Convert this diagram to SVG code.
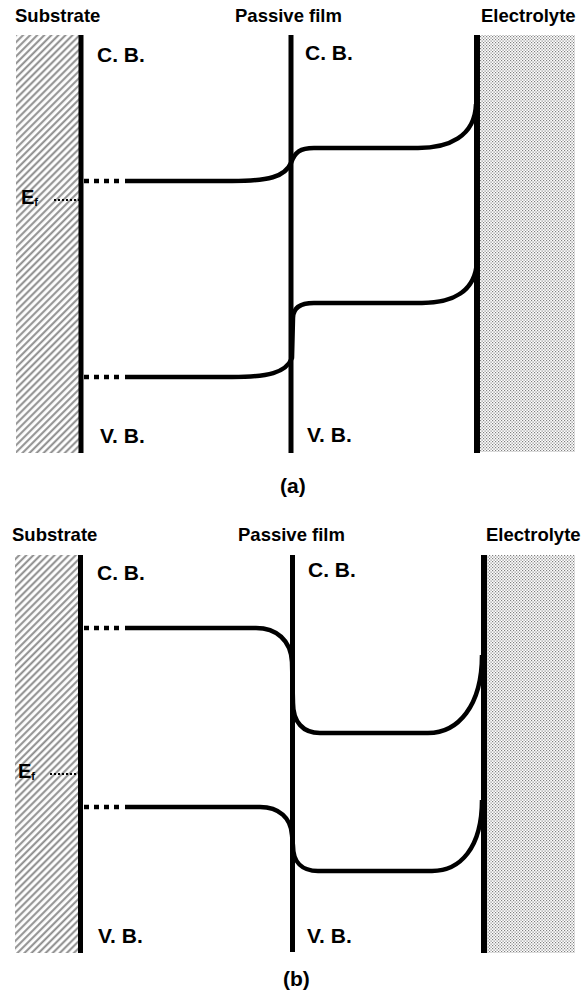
<svg xmlns="http://www.w3.org/2000/svg" width="588" height="993" viewBox="0 0 588 993">
  <defs>
    <pattern id="hatch" patternUnits="userSpaceOnUse" width="5" height="5" patternTransform="rotate(45)">
      <line x1="1.2" y1="-1" x2="1.2" y2="6" stroke="#8c8c8c" stroke-width="2"/>
    </pattern>
    <pattern id="dots" patternUnits="userSpaceOnUse" width="3" height="3">
      <rect x="0" y="0" width="3" height="3" fill="#ffffff"/>
      <rect x="0" y="0" width="1.2" height="1.2" fill="#808080"/>
      <rect x="1.5" y="1.5" width="1.2" height="1.2" fill="#808080"/>
    </pattern>
    <style>
      .lbl { font-family: "Liberation Sans", Arial, sans-serif; font-weight: bold; fill: #000; }
      .title { font-size: 18.5px; }
      .band-lbl { font-size: 21px; }
      .cap { font-size: 21px; }
      .wall { stroke: #000; stroke-width: 5; fill: none; }
      .ewall { stroke: #000; stroke-width: 6; fill: none; }
      .band { stroke: #000; stroke-width: 4.5; fill: none; stroke-linecap: butt; stroke-linejoin: round; }
      .dash { stroke: #000; stroke-width: 4.5; fill: none; stroke-dasharray: 5 5; }
      .fermi { stroke: #000; stroke-width: 2; fill: none; stroke-dasharray: 2 2; }
    </style>
  </defs>
  <rect width="588" height="993" fill="#ffffff"/>

  <!-- Panel (a) -->
  <g id="substrate-a">
    <rect x="16" y="35" width="63" height="418" fill="url(#hatch)"/>
    <line class="wall" x1="81" y1="35" x2="81" y2="453"/>
    <text class="lbl title" x="15" y="22">Substrate</text>
    <text class="lbl band-lbl" x="97" y="62">C. B.</text>
    <text class="lbl band-lbl" x="100" y="443">V. B.</text>
    <text class="lbl" x="21" y="204" style="font-size:20px">E<tspan dy="2" style="font-size:11px">f</tspan></text>
    <line class="fermi" x1="54" y1="200" x2="79" y2="200"/>
  </g>
  <g id="film-a">
    <line class="wall" x1="291" y1="35" x2="291" y2="453"/>
    <text class="lbl title" x="235" y="22">Passive film</text>
    <text class="lbl band-lbl" x="305" y="60">C. B.</text>
    <text class="lbl band-lbl" x="307" y="442">V. B.</text>
  </g>
  <g id="electrolyte-a">
    <rect x="480" y="35" width="95" height="417" fill="url(#dots)"/>
    <line class="ewall" x1="477" y1="35" x2="477" y2="453"/>
    <text class="lbl title" x="481" y="22">Electrolyte</text>
  </g>
  <text id="caption-a" class="lbl cap" x="280" y="493">(a)</text>

  <!-- Panel (b) -->
  <g id="substrate-b">
    <rect x="15" y="555" width="63" height="398" fill="url(#hatch)"/>
    <line class="wall" x1="80.5" y1="555" x2="80.5" y2="953"/>
    <text class="lbl title" x="12" y="541">Substrate</text>
    <text class="lbl band-lbl" x="97" y="580">C. B.</text>
    <text class="lbl band-lbl" x="98" y="943">V. B.</text>
    <text class="lbl" x="18" y="778" style="font-size:20px">E<tspan dy="2" style="font-size:11px">f</tspan></text>
    <line class="fermi" x1="50" y1="774" x2="78" y2="774"/>
  </g>
  <g id="film-b">
    <line class="wall" x1="292.5" y1="555" x2="292.5" y2="952"/>
    <text class="lbl title" x="238" y="541">Passive film</text>
    <text class="lbl band-lbl" x="308" y="577">C. B.</text>
    <text class="lbl band-lbl" x="307" y="943">V. B.</text>
  </g>
  <g id="electrolyte-b">
    <rect x="487" y="555" width="88" height="398" fill="url(#dots)"/>
    <line class="ewall" x1="484" y1="555" x2="484" y2="953"/>
    <text class="lbl title" x="486" y="541">Electrolyte</text>
  </g>
  <text id="caption-b" class="lbl cap" x="283" y="986">(b)</text>

  <!-- Band connectors -->
  <g id="connectors">
    <!-- (a) conduction band -->
    <line class="dash" x1="84" y1="181" x2="119" y2="181"/>
    <path class="band" d="M125,181 H232 C268,181 285,177 291,163 C295,152 300,148 314,148 H418 C448,148 475,137 476,104"/>
    <!-- (a) valence band -->
    <line class="dash" x1="84" y1="377" x2="119" y2="377"/>
    <path class="band" d="M125,377 H232 C268,377 286,373 292,358 L293,318 C293,308 300,303 314,303 H422 C452,303 475,292 477,262"/>
    <!-- (b) conduction band -->
    <line class="dash" x1="84" y1="628" x2="119" y2="628"/>
    <path class="band" d="M125,628 H256 C276,628 291,640 292,662 L293,703 C293,722 303,733 320,733 H428 C458,733 482,706 482,655"/>
    <!-- (b) valence band -->
    <line class="dash" x1="84" y1="807" x2="119" y2="807"/>
    <path class="band" d="M125,807 H260 C279,807 291,818 292,835 L293,846 C293,862 302,871 318,871 H432 C460,871 482,848 482,800"/>
  </g>
</svg>
